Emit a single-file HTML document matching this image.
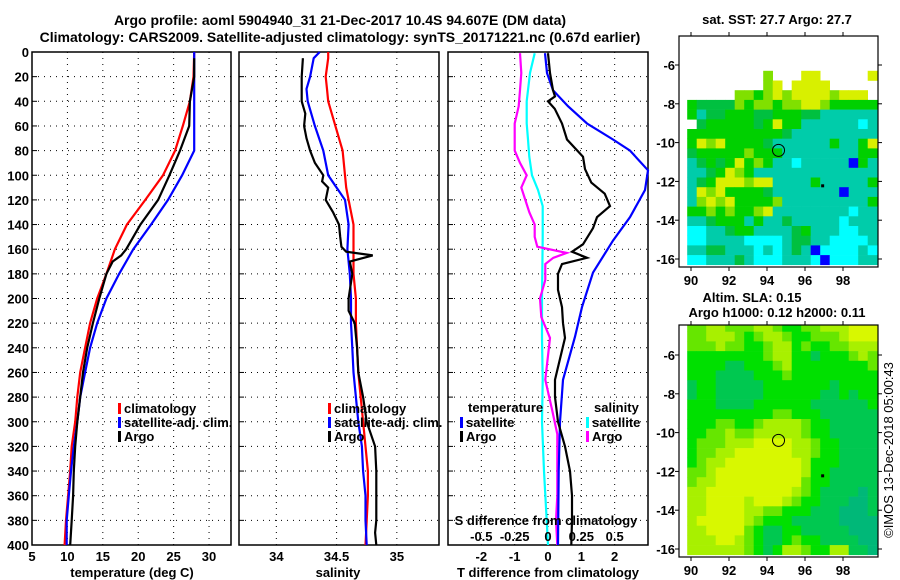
<!DOCTYPE html>
<html><head><meta charset="utf-8"><style>
html,body{margin:0;padding:0;background:#fff;}
svg{display:block;font-family:"Liberation Sans",sans-serif;font-weight:bold;}
</style></head><body>
<svg id="c" width="900" height="580" viewBox="0 0 900 580" xmlns="http://www.w3.org/2000/svg"></svg>
<script>
// ---------- data ----------
const tDepth = [0,20,40,60,80,100,120,140,160,180,200,220,240,260,280,300,320,340,360,380,400];
const tClim  = [27.9,27.8,27.3,26.3,25.2,23.5,21.0,18.4,16.7,15.5,14.2,13.2,12.5,11.8,11.4,11.1,10.6,10.4,10.1,9.8,9.6];
const tSat   = [27.9,27.9,27.9,27.9,27.9,26.2,24.2,21.8,19.3,17.3,15.5,14.2,13.2,12.5,11.8,11.4,10.9,10.5,10.2,9.9,9.9];
const argoDepth = [5,20,40,60,80,100,120,140,160,165,170,180,200,220,240,260,280,300,320,340,360,380,400];
const tArgo  = [27.9,27.9,27.3,27.2,25.9,24.4,22.8,20.3,18.3,17.6,16.4,15.5,14.5,13.6,12.8,12.2,11.8,11.4,11.1,10.9,10.8,10.6,10.4];
const sDepth = [0,5,20,30,40,60,80,100,110,120,140,160,180,200,220,240,260,280,300,320,340,360,380,400];
const sClim  = [34.43,34.43,34.41,34.42,34.43,34.49,34.55,34.57,34.58,34.60,34.64,34.64,34.64,34.66,34.66,34.67,34.68,34.70,34.72,34.74,34.76,34.76,34.75,34.74];
const sSat   = [34.36,34.31,34.28,34.25,34.26,34.32,34.39,34.43,34.50,34.57,34.60,34.59,34.61,34.62,34.62,34.63,34.64,34.66,34.68,34.71,34.72,34.74,34.74,34.75];
const sArgoDepth = [5,20,40,50,60,70,80,90,100,105,110,120,130,140,150,158,162,165,170,180,200,210,220,240,260,280,300,320,340,360,380,390,400];
const sArgo  = [34.22,34.21,34.21,34.24,34.23,34.25,34.28,34.32,34.39,34.38,34.43,34.41,34.47,34.52,34.53,34.54,34.58,34.80,34.61,34.63,34.60,34.60,34.65,34.67,34.68,34.72,34.75,34.82,34.83,34.83,34.83,34.82,34.83];
const dTDepth = [1,17,31,44,58,71,80,96,112,134,153,179,207,231,266,300,340,400];
const dTSat   = [-0.09,-0.03,0.15,0.6,1.17,1.95,2.46,3.0,2.91,2.46,1.95,1.35,1.02,0.81,0.45,0.36,0.32,0.3];
const dTArgoDepth = [1,17,31,36,40,46,58,71,85,95,106,115,125,134,143,156,162,167,172,180,193,207,220,232,266,280,300,320,340,360,380,400];
const dTArgo  = [0,0.06,0.15,0.21,0,0.2,0.42,0.57,1.05,1.11,1.3,1.7,1.86,1.47,1.35,1.05,0.72,1.17,0.42,0.3,0.3,0.42,0.45,0.51,0.21,0.21,0.3,0.51,0.66,0.72,0.72,0.7];
const dSDepth = [1,17,40,58,71,85,100,112,125,150,200,232,266,300,340,380,400];
const dSSat   = [-0.1,-0.135,-0.16,-0.16,-0.15,-0.14,-0.12,-0.075,-0.04,-0.04,-0.045,-0.045,-0.04,-0.045,-0.03,-0.01,0];
const dSArgoDepth = [1,17,31,44,58,71,80,90,100,110,120,130,140,150,158,163,167,172,185,200,215,232,266,290,310,330,360,380,400];
const dSArgo  = [-0.21,-0.2,-0.21,-0.22,-0.25,-0.25,-0.25,-0.21,-0.16,-0.2,-0.17,-0.14,-0.1,-0.1,-0.08,0.14,0.04,-0.02,-0.02,-0.06,-0.05,0.015,-0.02,0.03,0.07,0.07,0.07,0.06,0.07];
const depthTicks = [0,20,40,60,80,100,120,140,160,180,200,220,240,260,280,300,320,340,360,380,400];
const tTicks = [5,10,15,20,25,30];
const sTicks = [34,34.5,35];
const dTTicks = [-2,-1,0,1,2];
const dSTicks = [-0.5,-0.25,0,0.25,0.5];
const dSTickLabels = ["-0.5","-0.25","0","0.25","0.5"];
const lonTicks = [90,92,94,96,98];
const latTicks1 = [-6,-8,-10,-12,-14,-16];
const sstRows = [
"WWWWWWWWLWWWYYWWWWWY","WWWWWWWWLYWYYYYWWWWW","WWWWWLLGLYLYYYYLYYYW","GDDDDLGLLGLLYYLGGGGG",
"GTDDGGGDDGGGDDTTTTTT","WDGGGGGDGYGGTTTTTTCT","GGGGGGGGGGDTTTTTTTTT","GYLYGGGGDTTTTTTGTTGY",
"DGGGGGLGGGTTTTTTTTGG","TDGDGYGLGTTCTTTTTBGT","TTDGYLGTTTTTTTTTTTTT","TDGYYYLYYTTTTGTTTTTG",
"TYLYGGGGDTTTTTTTBTTT","TLYLYGGGGLTTTTTTTTTG","GGLGLGGLYTTTTTTTTCTT","TTDGGGTGTTDTTTTTCTTT",
"CCTTDGGTTTTDGTTTCCTT","CCTTTTCCCCTDDTTCCCCT","TTDDTTTCTCTDTBCCCCTC","CCTTTDTCCCTTTCBCCCTT"];
const slaRows = [
"LLAALLLAALGGLLAAAYYY","LLAAALGLAALGGLLLAYYY","LLLALLGGLAAGLGGLLAAA","GGGGGGGGLAAGGDGGGLAL",
"GGGGDDGGGLAGGGGGGGGL","GGGDDDDGGGLGGGGGGGGG","DGGDDDDDGGGGGGGDGGGG","DGGDDDDDGGGGGGDDGDGG",
"GGGDDDDGGGGGGDDDDDDG","GGGGGGGGGLLGGGDDDDDD","GGGLLGGLAAAALGGDDDDD","GGLLALLAAAAALGGDDDDD",
"GLLLAAAYYYYAALGGDDDD","GLLAAYYYYYYAALGGDDDD","GLAAYYYYYYYYAGGGDDDD","LLAYYYYYYYYYAGGDDDDD",
"LAAYYYYYYYYYLGGDDDDD","AAYYYYYYYYYALGDDDDTD","AAYYYYAYYYALGGDDDTTD","AAYYYYAALLGGGDDDTTTD",
"AYYYYYALGGGDDDDDTTTT","AAYYYYLGDDGGDDDDDTTT","AAAYYALGDDGLGGDDDDTT","AAAAAALGDGAALGGAADDT"];
const argoLon = 94.607, argoLat = -10.4;

// ---------- helpers ----------
const NS="http://www.w3.org/2000/svg", svg=document.getElementById('c');
function el(tag, attrs, parent){const e=document.createElementNS(NS,tag);for(const k in attrs)e.setAttribute(k,attrs[k]);(parent||svg).appendChild(e);return e;}
function txt(x,y,s,anchor,size,parent){const t=el('text',{x:x,y:y,'text-anchor':anchor||'middle','font-size':size||13},parent);t.textContent=s;return t;}
const Y0=52, Y1=545;
const yD = d => Y0 + d*(Y1-Y0)/400;

function panel(name,x0,x1,vmin,vmax,ticks,labels,showDepth){
  const g=el('g',{});
  
  
  const sx=v=>x0+(v-vmin)*(x1-x0)/(vmax-vmin);
  depthTicks.forEach(d=>{ if(d>0&&d<400) el('line',{x1:x0,x2:x1,y1:yD(d),y2:yD(d),stroke:'#000','stroke-width':1,'stroke-dasharray':'1,5'},g);
    el('line',{x1:x0,x2:x0+5,y1:yD(d),y2:yD(d),stroke:'#000'},g);});
  ticks.forEach(v=>{const x=sx(v); if(x>x0+1&&x<x1-1) el('line',{x1:x,x2:x,y1:Y0,y2:Y1,stroke:'#000','stroke-dasharray':'1,5'},g);});
  if(labels){ticks.forEach((v,i)=>{const t=txt(sx(v),561,labels[i],'middle',13,g);});}
  if(showDepth){depthTicks.forEach(d=>{const t=txt(29,yD(d)+5,String(d),'end',13,g);});}
  el('rect',{x:x0,y:Y0,width:x1-x0,height:Y1-Y0,fill:'none',stroke:'#000','stroke-width':1.5},g);
  return {g,sx};
}
function line(p,vals,depths,color,name){
  const pts=vals.map((v,i)=>p.sx(v).toFixed(1)+','+yD(depths[i]).toFixed(1)).join(' ');
  const l=el('polyline',{points:pts,fill:'none',stroke:color,'stroke-width':2.2},p.g);
  
  
}
function legend(g,x,y,color,label,name){
  el('rect',{x:x,y:y-10,width:3,height:11,fill:color},g);
  const t=txt(x+6,y,label,'start',13,g);
  
  
}

// ---------- titles ----------
let t=txt(340,25,'Argo profile: aoml 5904940_31 21-Dec-2017 10.4S 94.607E (DM data)','middle',14);


t=txt(340,42,'Climatology: CARS2009. Satellite-adjusted climatology: synTS_20171221.nc (0.67d earlier)','middle',14);



// ---------- panel 1: temperature ----------
const p1=panel('temperature-panel',32,231,5,33.1,tTicks,tTicks.map(String),true);
line(p1,tClim,tDepth,'#f00','climatology-temperature-line');
line(p1,tSat,tDepth,'#00f','satellite-temperature-line');
line(p1,tArgo,argoDepth,'#000','argo-temperature-line');
legend(p1.g,118,413,'#f00','climatology','legend-climatology');
legend(p1.g,118,427,'#00f','satellite-adj. clim.','legend-satellite');
legend(p1.g,118,441,'#000','Argo','legend-argo');
t=txt(132,577,'temperature (deg C)');



// ---------- panel 2: salinity ----------
const p2=panel('salinity-panel',239,439,33.69,35.35,sTicks,sTicks.map(String),false);
line(p2,sClim,sDepth,'#f00','climatology-salinity-line');
line(p2,sSat,sDepth,'#00f','satellite-salinity-line');
line(p2,sArgo,sArgoDepth,'#000','argo-salinity-line');
legend(p2.g,328,413,'#f00','climatology','legend-climatology-2');
legend(p2.g,328,427,'#00f','satellite-adj. clim.','legend-satellite-2');
legend(p2.g,328,441,'#000','Argo','legend-argo-2');
t=txt(338,577,'salinity');



// ---------- panel 3: differences ----------
const p3=panel('difference-panel',448,648,-3,3,dTTicks,dTTicks.map(String),false);
const p3s={g:p3.g,sx:v=>p3.sx(v*4)};
line(p3s,dSSat,dSDepth,'#0ff','satellite-salinity-diff-line');
line(p3s,dSArgo,dSArgoDepth,'#f0f','argo-salinity-diff-line');
line(p3,dTSat,dTDepth,'#00f','satellite-temperature-diff-line');
line(p3,dTArgo,dTArgoDepth,'#000','argo-temperature-diff-line');
txt(468,412,'temperature','start',13,p3.g);
legend(p3.g,460,427,'#00f','satellite','legend-t-satellite');
legend(p3.g,460,441,'#000','Argo','legend-t-argo');
txt(594,412,'salinity','start',13,p3.g);
legend(p3.g,586,427,'#0ff','satellite','legend-s-satellite');
legend(p3.g,586,441,'#f0f','Argo','legend-s-argo');
t=txt(546,525,'S difference from climatology');


dSTicks.forEach((v,i)=>{const tt=txt(p3s.sx(v),541,dSTickLabels[i]);
  
  });
t=txt(548,577,'T difference from climatology');



// ---------- maps ----------
const sstCol={Y:'#d8f000',L:'#80e000',G:'#00d000',D:'#00c040',T:'#00ccaa',C:'#00ffff',B:'#0000ff'};
const slaCol={Y:'#d8f800',A:'#a8f000',L:'#66e600',G:'#00e000',D:'#00c850',T:'#00b878'};
function map(name,bx0,by0,bx1,by1,lat90,latTop,rows,cols,latTicks){
  const g=el('g',{});
  
  
  const lx=lon=>691+(lon-90)*19;
  const ly=lat=>lat90+(-6-lat)*19.4;
  const clip='clip'+name;
  const cp=el('clipPath',{id:clip},g); el('rect',{x:bx0,y:by0,width:bx1-bx0,height:by1-by0},cp);
  const cg=el('g',{'clip-path':'url(#'+clip+')'},g);
  rows.forEach((r,i)=>{for(let j=0;j<r.length;j++){const c=cols[r[j]]; if(!c) continue;
    const lon=89.8+0.5*j, lat=latTop-0.5*i;
    el('rect',{x:lx(lon).toFixed(1),y:ly(lat).toFixed(1),width:9.8,height:10,fill:c},cg);}});
  el('circle',{cx:lx(argoLon),cy:ly(argoLat),r:6,fill:'none',stroke:'#000','stroke-width':1},g);
  el('rect',{x:lx(96.85),y:ly(-12.15),width:3,height:3,fill:'#000'},g);
  el('rect',{x:bx0,y:by0,width:bx1-bx0,height:by1-by0,fill:'none',stroke:'#000','stroke-width':1.2},g);
  lonTicks.forEach(v=>{const x=lx(v);el('line',{x1:x,x2:x,y1:by0,y2:by0-4,stroke:'#000'},g);el('line',{x1:x,x2:x,y1:by1,y2:by1+4,stroke:'#000'},g);
    const tt=txt(x,by1+18,String(v),'middle',13,g);
    
    });
  latTicks.forEach(v=>{const y=ly(v);el('line',{x1:bx0,x2:bx0-4,y1:y,y2:y,stroke:'#000'},g);el('line',{x1:bx1,x2:bx1+4,y1:y,y2:y,stroke:'#000'},g);
    const tt=txt(675,y+5,String(v),'end',13,g);
    
    });
}
map('sst-map',679,36,878,267,65,-6.3,sstRows,sstCol,latTicks1);
map('sla-map',679,325,878,557,355,-4.3,slaRows,slaCol,latTicks1);
t=txt(777,24,'sat. SST: 27.7 Argo: 27.7');


t=txt(752,302,'Altim. SLA: 0.15');


t=txt(777,317,'Argo h1000: 0.12 h2000: 0.11');


t=el('text',{x:0,y:0,'text-anchor':'middle','font-size':13,'font-weight':'normal',transform:'translate(893,450) rotate(-90)'});
t.textContent='©IMOS 13-Dec-2018 05:00:43';


</script>
</body></html>
